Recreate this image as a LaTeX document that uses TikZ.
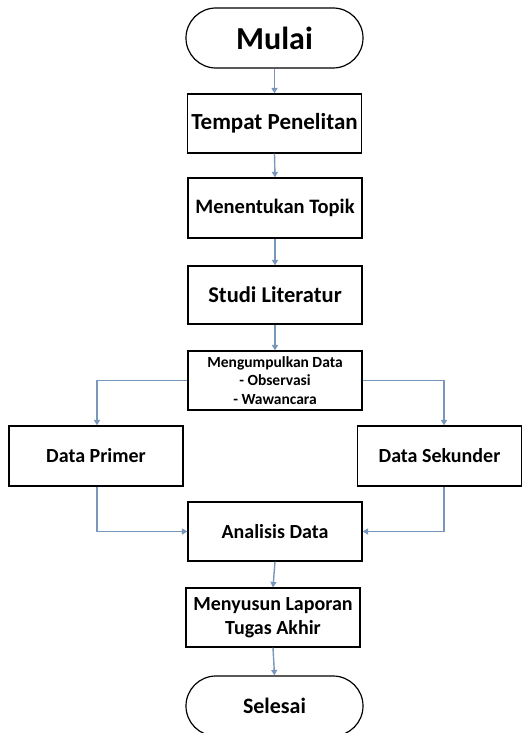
\documentclass[tikz,border=0pt]{standalone}
\usepackage{fontspec}
\setmainfont{Carlito}
\usetikzlibrary{shapes.misc,arrows.meta}
\definecolor{arrowcol}{RGB}{121,151,186}
\begin{document}
\begin{tikzpicture}[x=1pt,y=-1pt,
  box/.style={draw=black, line width=1.2pt, minimum width=174pt, minimum height=59pt,
    align=center, inner sep=0pt, font=\bfseries\fontsize{20}{24}\selectfont},
  term/.style={box, rounded rectangle, minimum width=177pt, minimum height=60pt},
  arr/.style={draw=arrowcol, line width=1.4pt, -{Triangle[length=5.5pt,width=6pt]}}]
\clip (0,0) rectangle (522,733);
\useasboundingbox (0,0) rectangle (522,733);
\node[term, font=\bfseries\fontsize{32}{36}\selectfont] (mulai) at (274.5,38) {Mulai};
\node[box, font=\bfseries\fontsize{23}{27}\selectfont] (tempat) at (274.5,123.5) {Tempat Penelitan};
\node[box, minimum height=60pt, font=\bfseries\fontsize{20.5}{24}\selectfont] (topik) at (275,208) {Menentukan Topik};
\node[box, minimum height=58pt, font=\bfseries\fontsize{22.5}{26}\selectfont] (studi) at (275,295) {Studi Literatur};
\node[box, font=\bfseries\fontsize{15.5}{18.5}\selectfont] (kumpul) at (275,380.5) {Mengumpulkan Data\\- Observasi\\- Wawancara};
\node[box, minimum height=60pt] (primer) at (96,456) {Data Primer};
\node[box, minimum width=164pt, minimum height=60pt] (sekunder) at (439.5,456) {Data Sekunder};
\node[box] (analisis) at (275,531.5) {Analisis Data};
\node[box, font=\bfseries\fontsize{20}{23.5}\selectfont] (laporan) at (273,617.5) {Menyusun Laporan\\Tugas Akhir};
\node[term, font=\bfseries\fontsize{22}{26}\selectfont] (selesai) at (274.5,706) {Selesai};
\draw[arr] (mulai.south) -- (tempat.north);
\draw[arr] (tempat.south) -- (topik.north);
\draw[arr] (topik.south) -- (studi.north);
\draw[arr] (studi.south) -- (kumpul.north);
\draw[arr] (kumpul.west) -| ([xshift=1pt]primer.north);
\draw[arr] (kumpul.east) -| ([xshift=4.5pt]sekunder.north);
\draw[arr] ([xshift=1pt]primer.south) |- (analisis.west);
\draw[arr] ([xshift=4.5pt]sekunder.south) |- (analisis.east);
\draw[arr] (analisis.south) -- (laporan.north);
\draw[arr] (laporan.south) -- (selesai.north);
\end{tikzpicture}
\end{document}
